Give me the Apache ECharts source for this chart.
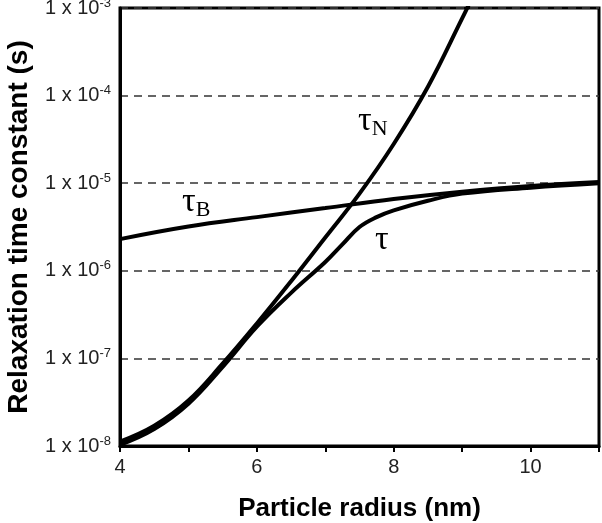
<!DOCTYPE html>
<html>
<head>
<meta charset="utf-8">
<script src="https://cdn.jsdelivr.net/npm/echarts@6/dist/echarts.min.js"></script>
<style>
  html, body { margin: 0; padding: 0; background: #fff; }
  #chart { width: 602px; height: 523px; }
</style>
</head>
<body>
<div id="chart"></div>
<script>
// particle radius (nm) and relaxation times (s)
const neelX = [4, 4.5, 5, 5.5, 6, 6.5, 7, 7.5, 8, 8.5, 9, 9.1];
const neelTau = [1.12e-8, 1.7e-8, 3.3e-8, 8.7e-8, 2.5e-7, 7.6e-7, 2.4e-6, 7.6e-6, 2.8e-5, 1.26e-4, 7.6e-4, 1.1e-3];

const brownX = [4, 5, 6, 7, 8, 9, 10, 11];
const brownTau = [2.3e-6, 3.2e-6, 4.1e-6, 5.2e-6, 6.6e-6, 8.0e-6, 9.3e-6, 1.03e-5];

const effX = [4, 4.5, 5, 5.5, 6, 6.5, 7, 7.25, 7.5, 7.75, 8, 8.5, 9, 10, 11];
const effTau = [1.03e-8, 1.56e-8, 3.04e-8, 8.0e-8, 2.3e-7, 5.6e-7, 1.26e-6, 2.0e-6, 3.16e-6, 4.1e-6, 4.9e-6, 6.3e-6, 7.6e-6, 8.9e-6, 1.0e-5];

const pairs = (xs, ys) => xs.map((x, i) => [x, ys[i]]);

const chart = echarts.init(document.getElementById('chart'));

function lineSeries(name, data) {
  return {
    name: name,
    type: 'line',
    data: data,
    smooth: 0.4,
    showSymbol: false,
    lineStyle: { color: '#000', width: 4 },
    z: 3
  };
}

const tauRich = {
  t: { fontFamily: 'Liberation Serif', fontSize: 34, fill: '#000' },
  s: { fontFamily: 'Liberation Serif', fontSize: 22, fill: '#000', padding: [16, 0, 0, 0] }
};

chart.setOption({
  animation: false,
  grid: {
    left: 120, right: 3, top: 8, bottom: 77,
    outerBoundsMode: 'none',
    show: true, borderColor: '#000', borderWidth: 3
  },
  xAxis: {
    type: 'value',
    min: 4,
    max: 11,
    interval: 1,
    name: 'Particle radius (nm)',
    nameLocation: 'middle',
    nameGap: 50,
    nameTextStyle: { fontFamily: 'Liberation Sans', fontWeight: 'bold', fontSize: 26, color: '#000' },
    axisLine: { lineStyle: { color: '#000', width: 3 } },
    axisTick: { inside: false, length: 6, lineStyle: { color: '#000', width: 2 } },
    axisLabel: {
      margin: 11,
      fontFamily: 'Liberation Sans',
      fontSize: 20,
      color: '#222',
      formatter: v => (v % 2 === 0 ? String(v) : '')
    },
    splitLine: { show: false }
  },
  yAxis: {
    type: 'log',
    logBase: 10,
    min: 1e-8,
    max: 1e-3,
    name: 'Relaxation time constant (s)',
    nameLocation: 'middle',
    nameGap: 87,
    nameTextStyle: { fontFamily: 'Liberation Sans', fontWeight: 'bold', fontSize: 28, color: '#000' },
    axisLine: { show: true, lineStyle: { color: '#000', width: 3 } },
    axisTick: { show: false },
    axisLabel: {
      margin: 9,
      fontFamily: 'Liberation Sans',
      fontSize: 20,
      color: '#222',
      formatter: v => '1 x 10{s|' + Math.round(Math.log10(v)) + '}',
      rich: {
        s: { fontFamily: 'Liberation Sans', fontSize: 13, color: '#222', verticalAlign: 'top', padding: [0, 0, 10, 0] }
      }
    },
    splitLine: { show: true, lineStyle: { color: '#333', width: 1.5, type: [8, 6] } }
  },
  series: [
    lineSeries('tauN', pairs(neelX, neelTau)),
    lineSeries('tauB', pairs(brownX, brownTau)),
    lineSeries('tau', pairs(effX, effTau))
  ],
  graphic: [
    { type: 'text', left: 358, top: 104, style: { text: '{t|τ}{s|N}', rich: tauRich } },
    { type: 'text', left: 182, top: 185, style: { text: '{t|τ}{s|B}', rich: tauRich } },
    { type: 'text', left: 375, top: 223, style: { text: 'τ', fontFamily: 'Liberation Serif', fontSize: 34, fill: '#000' } }
  ]
});
</script>
</body>
</html>
